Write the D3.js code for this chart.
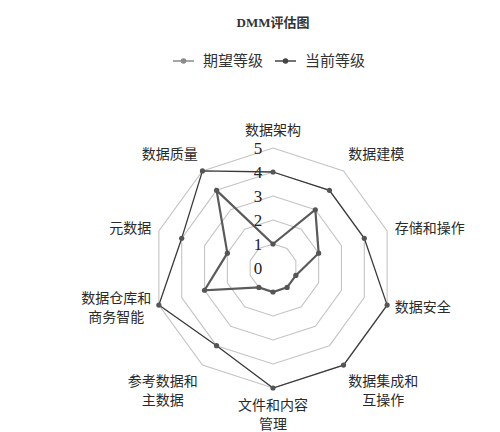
<!DOCTYPE html>
<html>
<head>
<meta charset="utf-8">
<script src="https://cdn.jsdelivr.net/npm/d3@7"></script>
<style>
  body { margin: 0; background: #fff; }
  text { font-family: "Liberation Serif", "Noto Sans CJK SC", serif; fill: #333; }
</style>
</head>
<body>
<div id="radar"></div>
<script>
// DMM评估图 - radar

let indicators = [
    ['数据架构'],
    ['数据建模'],
    ['存储和操作'],
    ['数据安全'],
    ['数据集成和', '互操作'],
    ['文件和内容', '管理'],
    ['参考数据和', '主数据'],
    ['数据仓库和', '商务智能'],
    ['元数据'],
    ['数据质量'],
]
let expected_level = [4, 4, 4, 5, 5, 5, 4, 5, 4, 5]   // 期望等级
let current_level = [1, 3, 2, 1, 1, 1, 1, 3, 2, 4]    // 当前等级
let level_ticks = [0, 1, 2, 3, 4, 5]
let series_names = ['期望等级', '当前等级']

let width = 500;
let height = 432;
let cx = 273, cy = 268;
let font_size = 14;

let svg = d3.select('#radar')
    .append('svg')
    .attr('width', width)
    .attr('height', height);

let r_scale = d3.scaleLinear()
    .domain([0, 5])
    .range([0, 120]);

let angle = d3.scaleLinear()
    .domain([0, indicators.length])
    .range([0, 2 * Math.PI]);

let g = svg.append('g')
    .attr('transform', 'translate(' + cx + ',' + cy + ')');

// anéis da grade
g.selectAll('.ring')
    .data(level_ticks.filter(d => d > 0))
    .enter()
    .append('path')
    .attr('class', 'ring')
    .attr('d', lv => d3.lineRadial()
        .angle((d, i) => angle(i))
        .radius(() => r_scale(lv))
        .curve(d3.curveLinearClosed)(indicators))
    .attr('fill', 'none')
    .attr('stroke', '#c4c4c4')
    .attr('stroke-width', 1.1);

// rótulos dos níveis
g.selectAll('.tick')
    .data(level_ticks)
    .enter()
    .append('text')
    .attr('x', -15)
    .attr('y', d => -r_scale(d))
    .attr('text-anchor', 'middle')
    .attr('dominant-baseline', 'central')
    .style('font-size', '17px')
    .style('fill', '#222')
    .text(d => d);

// séries
let series = [
    {name: series_names[0], values: expected_level, stroke: '#3a3a3a', width: 1.3, dot: '#555'},
    {name: series_names[1], values: current_level, stroke: '#5a5a5a', width: 2.2, dot: '#555'},
]

let point = (v, i) => [r_scale(v) * Math.sin(angle(i)), -r_scale(v) * Math.cos(angle(i))];

series.forEach(s => {
    g.append('path')
        .attr('d', d3.lineRadial()
            .angle((d, i) => angle(i))
            .radius(d => r_scale(d))
            .curve(d3.curveLinearClosed)(s.values))
        .attr('fill', 'none')
        .attr('stroke', s.stroke)
        .attr('stroke-width', s.width);
    g.append('g').selectAll('circle')
        .data(s.values)
        .enter()
        .append('circle')
        .attr('cx', (d, i) => point(d, i)[0])
        .attr('cy', (d, i) => point(d, i)[1])
        .attr('r', 2.6)
        .attr('fill', s.dot);
});

// nomes dos indicadores
let line_h = 19;
indicators.forEach((lines, i) => {
    let a = angle(i);
    let s = Math.sin(a), c = Math.cos(a);
    let lx = (r_scale(5) + 8) * s;
    let ly = -(r_scale(5) + 8) * c;
    let block_w = d3.max(lines, t => t.length) * font_size;
    let block_h = lines.length * line_h;
    let x_mid = s > 0.05 ? lx + block_w / 2 : s < -0.05 ? lx - block_w / 2 : lx;
    let y_top = Math.abs(c) < 0.35 ? ly - block_h / 2 : c > 0 ? ly - block_h : ly;
    g.append('g').selectAll('text')
        .data(lines)
        .enter()
        .append('text')
        .attr('x', x_mid)
        .attr('y', (d, k) => y_top + line_h / 2 + k * line_h)
        .attr('text-anchor', 'middle')
        .attr('dominant-baseline', 'central')
        .style('font-size', font_size + 'px')
        .style('fill', '#2a2a2a')
        .text(d => d);
});

// título
svg.append('text')
    .attr('x', 273)
    .attr('y', 22)
    .attr('text-anchor', 'middle')
    .attr('dominant-baseline', 'central')
    .style('font-size', '13px')
    .style('font-weight', 'bold')
    .text('DMM评估图');

// legenda
let legend_colors = ['#8a8a8a', '#444'];
let legend_x = [173, 275];
series_names.forEach((name, i) => {
    let lg = svg.append('g')
        .attr('transform', 'translate(' + legend_x[i] + ',61)');
    lg.append('line')
        .attr('x1', 0).attr('x2', 21)
        .attr('stroke', legend_colors[i])
        .attr('stroke-width', 1.5);
    lg.append('circle')
        .attr('cx', 10.5)
        .attr('r', 2.8)
        .attr('fill', legend_colors[i]);
    lg.append('text')
        .attr('x', 30)
        .attr('dominant-baseline', 'central')
        .style('font-size', '15px')
        .text(name);
});
</script>
</body>
</html>
